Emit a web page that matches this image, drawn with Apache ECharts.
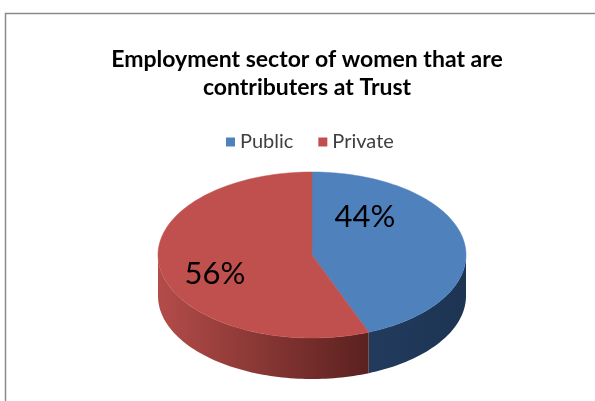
<!DOCTYPE html>
<html>
<head>
<meta charset="utf-8">
<script src="https://cdn.jsdelivr.net/npm/echarts@6/dist/echarts.min.js"></script>
<style>
  html, body { margin: 0; padding: 0; background: #ffffff; }
  #chart { width: 595px; height: 401px; }
</style>
</head>
<body>
<div id="chart"></div>
<script>
// Employment sector shares (percent)
const categories = ['Public', 'Private'];
const shares = [44, 56];

// Face and wall colours per sector
const topColors = ['#4F81BD', '#C0504D'];
const sideColors = [['#223B5D', '#1D3453'], ['#B34C49', '#5B211F']];

// Geometry of the tilted pie and the label anchors (layout only)
const pie = { cx: 312, cy: 255, rx: 154, ry: 83, depth: 41 };
const labelAnchors = [[365, 217], [215, 274]];
const FONT = 'Lato, "Open Sans", sans-serif';

const total = shares.reduce((a, b) => a + b, 0);
const startAngles = [];
let acc = 0;
shares.forEach(v => { startAngles.push(acc / total * 360); acc += v; });

// angle in degrees, clockwise from 12 o'clock
function rim(deg, dy) {
  const r = deg * Math.PI / 180;
  return [pie.cx + pie.rx * Math.sin(r), pie.cy - pie.ry * Math.cos(r) + dy];
}
function arc(a0, a1, dy) {
  const pts = [];
  const n = Math.max(2, Math.ceil((a1 - a0) / 1.5));
  for (let k = 0; k <= n; k++) pts.push(rim(a0 + (a1 - a0) * k / n, dy));
  return pts;
}

function makeRender(i) {
  return function (params, api) {
    const value = api.value(0);
    const a0 = startAngles[i];
    const a1 = a0 + value / total * 360;
    const children = [];

    // front wall, visible between 90 and 270 degrees
    const s0 = Math.max(a0, 90), s1 = Math.min(a1, 270);
    if (s1 > s0) {
      const top = arc(s0, s1, 0);
      const bottom = arc(s0, s1, pie.depth).reverse();
      const xs = top.map(p => p[0]);
      const xmin = Math.min(...xs), xmax = Math.max(...xs);
      children.push({
        type: 'polygon',
        z2: 1,
        shape: { points: top.concat(bottom) },
        style: {
          fill: {
            type: 'linear', global: true,
            x: xmin, y: 0, x2: xmax, y2: 0,
            colorStops: [
              { offset: 0, color: sideColors[i][0] },
              { offset: 1, color: sideColors[i][1] }
            ]
          },
          stroke: null
        }
      });
    }

    // top face
    children.push({
      type: 'polygon',
      z2: 2,
      shape: { points: [[pie.cx, pie.cy]].concat(arc(a0, a1, 0)) },
      style: { fill: topColors[i], stroke: topColors[i], lineWidth: 0.5 }
    });

    // value label
    children.push({
      type: 'text',
      z2: 3,
      x: labelAnchors[i][0],
      y: labelAnchors[i][1],
      style: {
        text: value + '%',
        fill: '#000000',
        font: '31px ' + FONT,
        align: 'center',
        verticalAlign: 'middle'
      }
    });

    return { type: 'group', children };
  };
}

const chart = echarts.init(document.getElementById('chart'), null, { renderer: 'canvas' });

chart.setOption({
  animation: false,
  color: topColors,
  title: {
    text: 'Employment sector of women that are\ncontributers at Trust',
    left: 302,
    textAlign: 'center',
    top: 41,
    textStyle: {
      fontFamily: FONT,
      fontSize: 23,
      fontWeight: 'bold',
      color: '#000000',
      lineHeight: 28
    }
  },
  legend: {
    data: categories,
    left: 226,
    top: 132,
    padding: 0,
    icon: 'rect',
    itemWidth: 9,
    itemHeight: 9,
    itemGap: 25,
    textStyle: { fontFamily: FONT, fontSize: 20, color: '#404040' }
  },
  graphic: [{
    type: 'rect',
    z: -10,
    shape: { x: 5.5, y: 13.5, width: 700, height: 500 },
    style: { fill: 'none', stroke: '#8a8a8a', lineWidth: 1.5 }
  }],
  series: categories.map((name, i) => ({
    type: 'custom',
    name: name,
    coordinateSystem: 'none',
    silent: true,
    itemStyle: { color: topColors[i] },
    renderItem: makeRender(i),
    data: [[shares[i]]]
  }))
});
</script>
</body>
</html>
